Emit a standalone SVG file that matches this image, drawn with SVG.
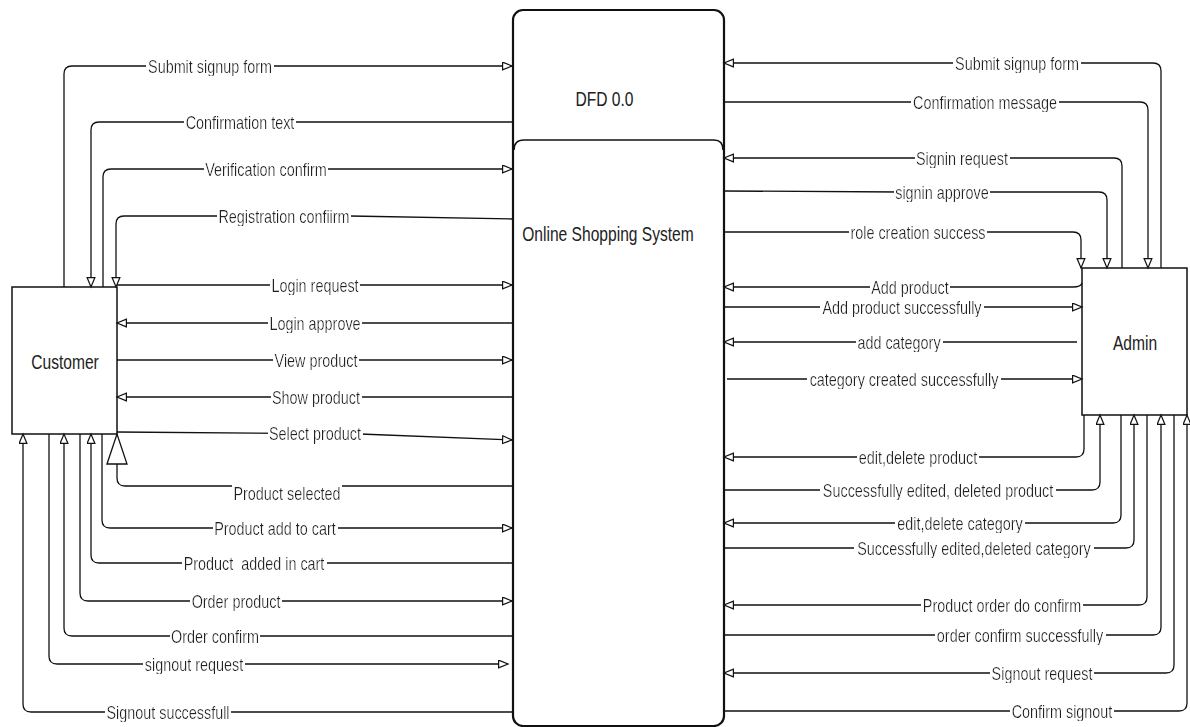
<svg xmlns="http://www.w3.org/2000/svg" width="1190" height="727" viewBox="0 0 1190 727">
<style>
.c{fill:none;stroke:#111;stroke-width:1.3}
.a{marker-end:url(#ah)}
.box{fill:#fff;stroke:#111;stroke-width:1.5}
.proc{fill:#fff;stroke:#111;stroke-width:2.2}
.l{font-family:"Liberation Sans",Arial,sans-serif;font-size:18px;fill:#222;text-anchor:middle;white-space:pre;filter:url(#bg)}
.n{font-family:"Liberation Sans",Arial,sans-serif;font-size:19.5px;fill:#222;text-anchor:middle}
</style>
<defs>
<marker id="ah" markerUnits="userSpaceOnUse" markerWidth="12" markerHeight="12" refX="10" refY="4.5" orient="auto">
<path d="M0.6,0.6 L10,4.5 L0.6,8.4 Z" fill="#fff" stroke="#111" stroke-width="1.2"/>
</marker>
<marker id="big" markerUnits="userSpaceOnUse" markerWidth="34" markerHeight="26" refX="31" refY="11" orient="auto">
<path d="M1,1 L31,11 L1,21 Z" fill="#fff" stroke="#111" stroke-width="1.3"/>
</marker>
<filter id="bg" x="-0.01" y="0" width="1.02" height="1"><feFlood flood-color="#fff"/><feComposite in="SourceGraphic" operator="over"/></filter>
</defs>

<g id="process">
<rect class="proc" x="513" y="10" width="211" height="716" rx="10"/>
<path d="M514,150 Q514,140 524,140 H714 Q723,140 723,150" fill="none" stroke="#111" stroke-width="1.6"/>
<text class="n" transform="translate(604.5,106) scale(0.8,1)">DFD 0.0</text>
<text class="n" transform="translate(608,241) scale(0.8,1)">Online Shopping System</text>
</g>

<g id="customer">
<rect class="box" x="12" y="287" width="105" height="147"/>
<text class="n" transform="translate(65,369) scale(0.8,1)">Customer</text>
</g>

<g id="admin">
<rect class="box" x="1082" y="268" width="105" height="147"/>
<text class="n" transform="translate(1135,350) scale(0.8,1)">Admin</text>
</g>

<g id="connectors">
<path class="c a" d="M64,287 V74 Q64,66 72,66 H512"/>
<path class="c a" d="M512,122 H99 Q91,122 91,130 V287"/>
<path class="c a" d="M103,287 V177 Q103,169 111,169 H512"/>
<path class="c a" d="M512,219 L350,216 H124 Q116,216 116,224 V287"/>
<path class="c a" d="M117,285 H512"/>
<path class="c a" d="M512,323 H117"/>
<path class="c a" d="M117,360 H512"/>
<path class="c a" d="M512,397 H117"/>
<path class="c a" d="M117,432 L360,434 L512,440"/>
<path class="c" d="M512,486 H125 Q117,486 117,478 V434" marker-end="url(#big)"/>
<path class="c a" d="M102,434 V520 Q102,528 110,528 H512"/>
<path class="c a" d="M512,563 H99 Q91,563 91,555 V434"/>
<path class="c a" d="M80,434 V593 Q80,601 88,601 H512"/>
<path class="c a" d="M512,636 H72 Q64,636 64,628 V434"/>
<path class="c a" d="M49,434 V656 Q49,664 57,664 H508"/>
<path class="c a" d="M512,712 H31 Q23,712 23,704 V434"/>

<path class="c a" d="M1161,268 V71 Q1161,63 1153,63 H724"/>
<path class="c a" d="M724,102 H1140 Q1148,102 1148,110 V268"/>
<path class="c a" d="M1122,268 V166 Q1122,158 1114,158 H724"/>
<path class="c a" d="M724,191 L900,192 H1099 Q1107,192 1107,200 V268"/>
<path class="c a" d="M724,232 H1073 Q1081,232 1081,240 V268"/>
<path class="c a" d="M1082,283 Q1081,287 1073,287 H724"/>
<path class="c a" d="M724,307 H1082"/>
<path class="c a" d="M1077,342 H724"/>
<path class="c a" d="M727,379 H1082"/>
<path class="c a" d="M1084,415 V449 Q1084,457 1076,457 H724"/>
<path class="c a" d="M724,490 H1092 Q1100,490 1100,482 V415"/>
<path class="c a" d="M1121,415 V515 Q1121,523 1113,523 H724"/>
<path class="c a" d="M724,548 H1126 Q1134,548 1134,540 V415"/>
<path class="c a" d="M1147,415 V597 Q1147,605 1139,605 H724"/>
<path class="c a" d="M724,635 H1153 Q1161,635 1161,627 V415"/>
<path class="c a" d="M1174,415 V665 Q1174,673 1166,673 H724"/>
<path class="c a" d="M724,711 H1179 Q1187,711 1187,703 V415"/>

<text class="l" transform="translate(210,72.5) scale(0.8,1)">Submit signup form</text>
<text class="l" transform="translate(240,128.5) scale(0.8,1)">Confirmation text</text>
<text class="l" transform="translate(266,175.5) scale(0.8,1)">Verification confirm</text>
<text class="l" transform="translate(284,222.5) scale(0.8,1)">Registration confiirm</text>
<text class="l" transform="translate(315,291.5) scale(0.8,1)">Login request</text>
<text class="l" transform="translate(315,329.5) scale(0.8,1)">Login approve</text>
<text class="l" transform="translate(316,366.5) scale(0.8,1)">View product</text>
<text class="l" transform="translate(316,403.5) scale(0.8,1)">Show product</text>
<text class="l" transform="translate(315,440) scale(0.8,1)">Select product</text>
<text class="l" transform="translate(287,500) scale(0.8,1)">Product selected</text>
<text class="l" transform="translate(275,534.5) scale(0.8,1)">Product add to cart</text>
<text class="l" transform="translate(254,569.5) scale(0.8,1)">Product  added in cart</text>
<text class="l" transform="translate(236,607.5) scale(0.8,1)">Order product</text>
<text class="l" transform="translate(215,642.5) scale(0.8,1)">Order confirm</text>
<text class="l" transform="translate(194,670.5) scale(0.8,1)">signout request</text>
<text class="l" transform="translate(168,718.5) scale(0.8,1)">Signout successfull</text>

<text class="l" transform="translate(1017,69.5) scale(0.8,1)">Submit signup form</text>
<text class="l" transform="translate(985,108.5) scale(0.8,1)">Confirmation message</text>
<text class="l" transform="translate(962,164.5) scale(0.8,1)">Signin request</text>
<text class="l" transform="translate(942,198.5) scale(0.8,1)">signin approve</text>
<text class="l" transform="translate(918,238.5) scale(0.8,1)">role creation success</text>
<text class="l" transform="translate(902,313.5) scale(0.8,1)">Add product successfully</text>
<text class="l" transform="translate(910,293.5) scale(0.8,1)">Add product</text>
<text class="l" transform="translate(899,348.5) scale(0.8,1)">add category</text>
<text class="l" transform="translate(904,385.5) scale(0.8,1)">category created successfully</text>
<text class="l" transform="translate(918,463.5) scale(0.8,1)">edit,delete product</text>
<text class="l" transform="translate(938,496.5) scale(0.8,1)">Successfully edited, deleted product</text>
<text class="l" transform="translate(960,529.5) scale(0.8,1)">edit,delete category</text>
<text class="l" transform="translate(974,554.5) scale(0.8,1)">Successfully edited,deleted category</text>
<text class="l" transform="translate(1002,611.5) scale(0.8,1)">Product order do confirm</text>
<text class="l" transform="translate(1020,641.5) scale(0.8,1)">order confirm successfully</text>
<text class="l" transform="translate(1042,679.5) scale(0.8,1)">Signout request</text>
<text class="l" transform="translate(1062,717.5) scale(0.8,1)">Confirm signout</text>
</g>
</svg>
